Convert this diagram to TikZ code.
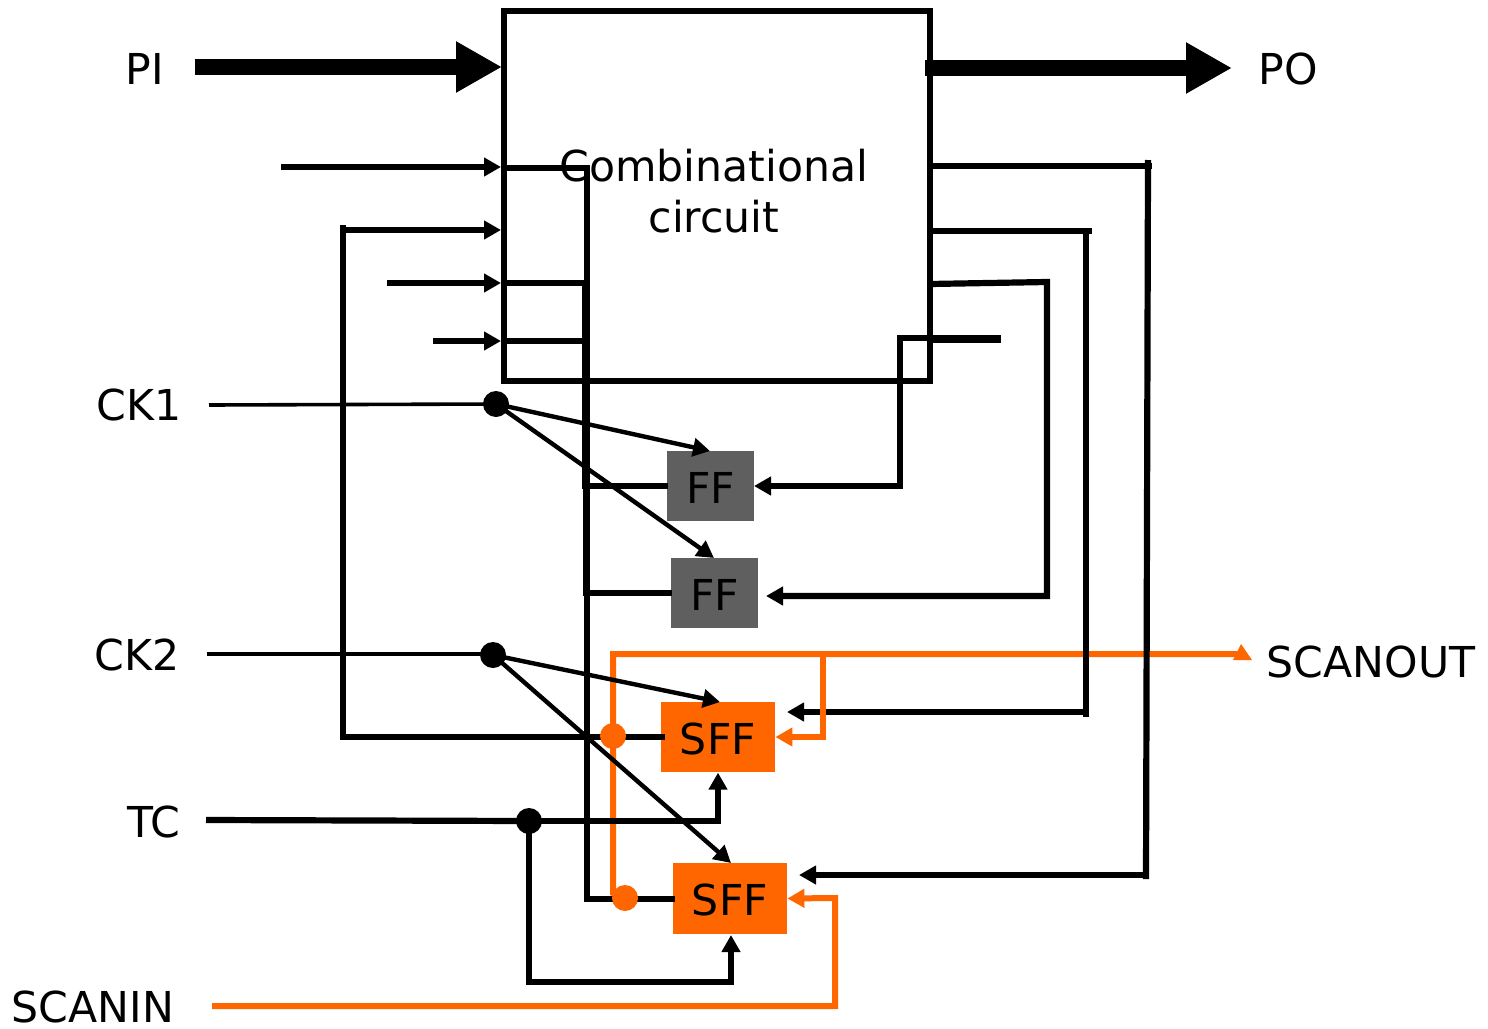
\documentclass[tikz,border=0pt]{standalone}
\usepackage{fontspec}
\setmainfont{DejaVu Sans}
\usetikzlibrary{arrows.meta}
\definecolor{scanor}{HTML}{FF6600}
\definecolor{ffgray}{HTML}{5F5F5F}
\tikzset{
  wire/.style={line width=3.1pt,draw=black,line join=miter},
  thinwire/.style={line width=2.2pt,draw=black},
  scanwire/.style={line width=3pt,draw=scanor,line join=miter},
  tip/.style={-{Triangle[length=8.5pt,width=9pt]}},
  scantip/.style={-{Triangle[length=8.5pt,width=9pt]}},
  bigtip/.style={-{Triangle[length=23pt,width=24pt]}},
  bus/.style={line width=8pt,draw=black},
  lab/.style={inner sep=0pt,font=\fontsize{21.3}{25.5}\selectfont},
  ffbox/.style={fill=ffgray,inner sep=0pt,minimum width=43.5pt,minimum height=35pt,text height=17pt,text depth=0pt,font=\fontsize{21.3}{25.5}\selectfont},
  sffbox/.style={fill=scanor,inner sep=0pt,minimum width=57pt,minimum height=35.25pt,text height=17pt,text depth=0pt,font=\fontsize{21.3}{25.5}\selectfont},
  blackdot/.style={circle,fill=black,inner sep=0pt,minimum size=13pt},
  orangedot/.style={circle,fill=scanor,inner sep=0pt,minimum size=13pt},
}
\begin{document}
\begin{tikzpicture}[x=0.5pt,y=-0.5pt]
\useasboundingbox (0,0) rectangle (1488,1028);
% blocks
\node[ffbox] (ff1) at (710.5,486) {FF};
\node[ffbox] (ff2) at (714.5,593) {FF};
\node[sffbox] (sff1) at (718,737) {SFF};
\node[sffbox] (sff2) at (730,898.5) {SFF};
\draw[line width=3pt] (503.5,11) rectangle (930,381);
\node[lab,align=center,anchor=base] (ctext) at (714,232) {Combinational\\circuit};
% labels
\node[lab,anchor=base] (pi) at (145,84) {PI};
\node[lab,anchor=base] (po) at (1288,84) {PO};
\node[lab,anchor=base] (ck1) at (139,420) {CK1};
\node[lab,anchor=base] (ck2) at (137,670) {CK2};
\node[lab,anchor=base] (tc) at (154,837) {TC};
\node[lab,anchor=base] (scanin) at (93,1022) {SCANIN};
\node[lab,anchor=base] (scanout) at (1371,677) {SCANOUT};
% junction positions
\coordinate (jck1) at (496,404);
\coordinate (jck2) at (493,655);
\coordinate (jtc) at (529,821);
\coordinate (jo1) at (613,736);
\coordinate (jo2) at (625,898);
\coordinate (in2) at (731,935);
% scan chain, under the black wires
\draw[scanwire] (jo2) -- (613,893) -- (jo1) -- (613,654) -- (1242,654);
\fill[scanor] (1241,644) -- (1252,660) -- (1233,660) -- cycle;
% bus arrows
\draw[bus,bigtip] (195,67) -- (502,67);
\draw[bus,bigtip] (925,68) -- (1232,68);
% inputs
\draw[wire,tip] (281,167) -- (501,167);
\draw[wire,tip] (343,230) -- (501,230);
\draw[wire,tip] (387,283) -- (501,283);
\draw[wire,tip] (433,341) -- (501,341);
% state lines to circuit inputs
\draw[wire] (503,168) -- (587,168) -- (587,899) -- (675,899);
\draw[wire] (503,283) -- (585,283) -- (585,486) -- (668,486);
\draw[wire] (503,341) -- (586,341) -- (586,593) -- (672,593);
\draw[wire] (343,225) -- (343,737) -- (665,737);
% outputs
\draw[wire] (930,166) -- (1152,166);
\draw[wire] (1148,160) -- (1146,879);
\draw[wire,tip] (1147,875) -- (799,875);
\draw[wire] (930,231) -- (1092,231);
\draw[wire] (1086,228) -- (1086,717);
\draw[wire,tip] (1086,712) -- (787,712);
\draw[wire,tip] (930,284) -- (1047,282) -- (1047,596) -- (766,596);
\draw[line width=4pt] (930,339) -- (1001,339);
\draw[wire,tip] (930,338) -- (900,338) -- (900,486) -- (754,486);
% clocks
\draw[line width=1.8pt] (209,405) -- (jck1);
\draw[line width=1.8pt] (207,654) -- (493,654);
\draw[thinwire,tip] (jck1) -- (710,451);
\draw[thinwire,tip] (jck1) -- (714,558);
\draw[thinwire,tip] (jck2) -- (720,702);
\draw[thinwire,tip] (jck2) -- (731,863);
% test control
\draw[wire] (206,820) -- (jtc);
\draw[wire,tip] (jtc) -- (718,821) -- (sff1.south);
\draw[wire,tip] (jtc) -- (529,982) -- (731,982) -- (in2);
% scan feedback
\draw[scanwire,scantip] (823,654) -- (823,737) -- (sff1.east);
\draw[scanwire,scantip] (212,1006) -- (835,1006) -- (835,898) -- (sff2.east);
% dots
\node[blackdot] (dck1) at (jck1) {};
\node[blackdot] (dck2) at (jck2) {};
\node[blackdot] (dtc) at (jtc) {};
\node[orangedot] (do1) at (jo1) {};
\node[orangedot] (do2) at (jo2) {};
\end{tikzpicture}
\end{document}
